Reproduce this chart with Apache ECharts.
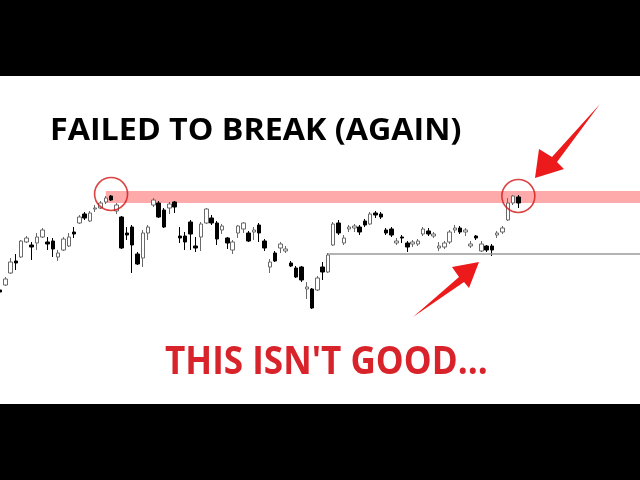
<!DOCTYPE html>
<html>
<head>
<meta charset="utf-8">
<script src="https://cdn.jsdelivr.net/npm/echarts@6/dist/echarts.min.js"></script>
<style>html,body{margin:0;padding:0;background:#fff}#c{width:640px;height:480px}</style>
</head>
<body>
<div id="c"></div>
<script>
// Candles (price units; higher = higher on chart)
var opens  = [190,195,207,219,223,238,235,237,243,238,239,223,230,234,248,257,266,259,271,272,278,284,269,263,247,253,226,222,247,275,277,270,272,278,244,244,258,234,243,257,262,257,250,242,230,247,251,247,248,255,239,213,227,232,229,217,212,213,191,191,190,213,208,235,257,237,251,252,253,259,256,267,266,250,251,237,243,237,236,236,246,249,244,232,233,238,250,252,248,234,244,229,234,234,245,248,260,277,283];
var closes = [188,201,218,217,239,242,233,243,250,236,231,227,241,243,246,263,262,267,272,277,282,280,275,232,245,235,216,247,253,280,263,253,276,273,242,238,246,232,256,271,257,241,254,237,238,254,257,239,250,247,232,218,219,236,231,214,203,200,193,172,202,208,225,256,247,242,253,254,248,255,266,265,263,247,245,239,242,233,238,239,251,246,246,234,237,248,252,248,250,236,242,236,230,230,247,252,277,284,277];
var lows   = [187,194,206,210,222,237,220,230,242,230,223,219,229,233,242,256,260,258,268,271,276,279,266,231,240,207,215,213,240,273,262,252,266,267,237,230,230,228,229,256,255,235,246,231,226,242,247,238,240,238,229,207,218,227,227,213,202,198,181,171,189,200,207,234,245,235,248,248,245,253,255,262,261,245,243,235,237,228,233,234,244,244,242,229,231,236,247,246,244,232,240,228,228,224,242,246,259,275,272];
var highs  = [191,203,222,226,240,244,238,247,252,243,242,230,243,247,253,265,268,269,275,279,284,285,277,264,253,255,228,250,255,282,279,272,278,279,253,248,260,243,258,272,265,259,256,243,240,255,258,249,253,257,241,221,229,238,234,219,214,214,198,192,204,218,227,258,260,245,255,256,255,261,268,269,268,252,253,242,245,239,240,241,253,252,248,238,239,250,255,254,252,239,245,239,235,236,249,254,282,285,285];
var slotCount = 122;
var resistance = [289, 277];   // band bottom/top
var support = 226;
var circleAt = [[21, 286], [98, 284]];
var titleText = 'FAILED TO BREAK (AGAIN)';
var subText = "THIS ISN'T GOOD...";

var categories = [];
for (var i = 0; i < slotCount; i++) categories.push('D' + (i + 1));
var ohlc = opens.map(function (o, i) { return [o, closes[i], lows[i], highs[i]]; });

var chart = echarts.init(document.getElementById('c'), null, {renderer: 'canvas'});
chart.setOption({
  animation: false,
  backgroundColor: '#fff',
  grid: {left: 0, right: 0, top: 0, bottom: 0, containLabel: false},
  xAxis: {type: 'category', data: categories, boundaryGap: false, show: false},
  yAxis: {type: 'value', min: 0, max: 480, show: false},
  series: [
    {
      type: 'candlestick',
      data: ohlc,
      barWidth: 4,
      itemStyle: {color: '#ffffff', color0: '#000000', borderColor: '#6a6a6a', borderColor0: '#000000', borderWidth: 1},
      markArea: {
        silent: true,
        itemStyle: {color: '#ffaaaa', opacity: 1},
        data: [[{xAxis: categories[20], yAxis: resistance[0]}, {xAxis: categories[slotCount - 1], yAxis: resistance[1]}]]
      },
      markLine: {
        silent: true,
        symbol: ['none', 'none'],
        label: {show: false},
        lineStyle: {color: '#9a9a9a', width: 1.5, type: 'solid'},
        data: [[{xAxis: categories[62], yAxis: support}, {xAxis: categories[slotCount - 1], yAxis: support}]]
      }
    },
    {
      type: 'scatter',
      data: circleAt.map(function (p) { return [categories[p[0]], p[1]]; }),
      symbol: 'circle',
      symbolSize: 33,
      itemStyle: {color: 'rgba(0,0,0,0)', borderColor: '#d41414', borderWidth: 1.6},
      z: 5
    }
  ],
  graphic: [
    {type: 'rect', shape: {x: 0, y: 0, width: 640, height: 76}, style: {fill: '#000'}, z: 100},
    {type: 'rect', shape: {x: 0, y: 404, width: 640, height: 76}, style: {fill: '#000'}, z: 100},
    {type: 'text', x: 50, y: 116, scaleX: 1.04, z: 100,
     style: {text: titleText, fill: '#000', font: 'bold 31px "Open Sans"'}},
    {type: 'text', x: 165, y: 343, scaleX: 0.877, z: 100,
     style: {text: subText, fill: '#d9232b', font: 'bold 40px "Open Sans"'}},
    {type: 'polygon', z: 100,
     shape: {points: [[600,104],[552,157],[539,149],[535,178],[564,169],[557,162]]},
     style: {fill: '#ec1a1a'}},
    {type: 'polygon', z: 100,
     shape: {points: [[413,317],[459,277],[452,267],[479,262],[469,288],[464,282]]},
     style: {fill: '#ec1a1a'}}
  ]
});
</script>
</body>
</html>
